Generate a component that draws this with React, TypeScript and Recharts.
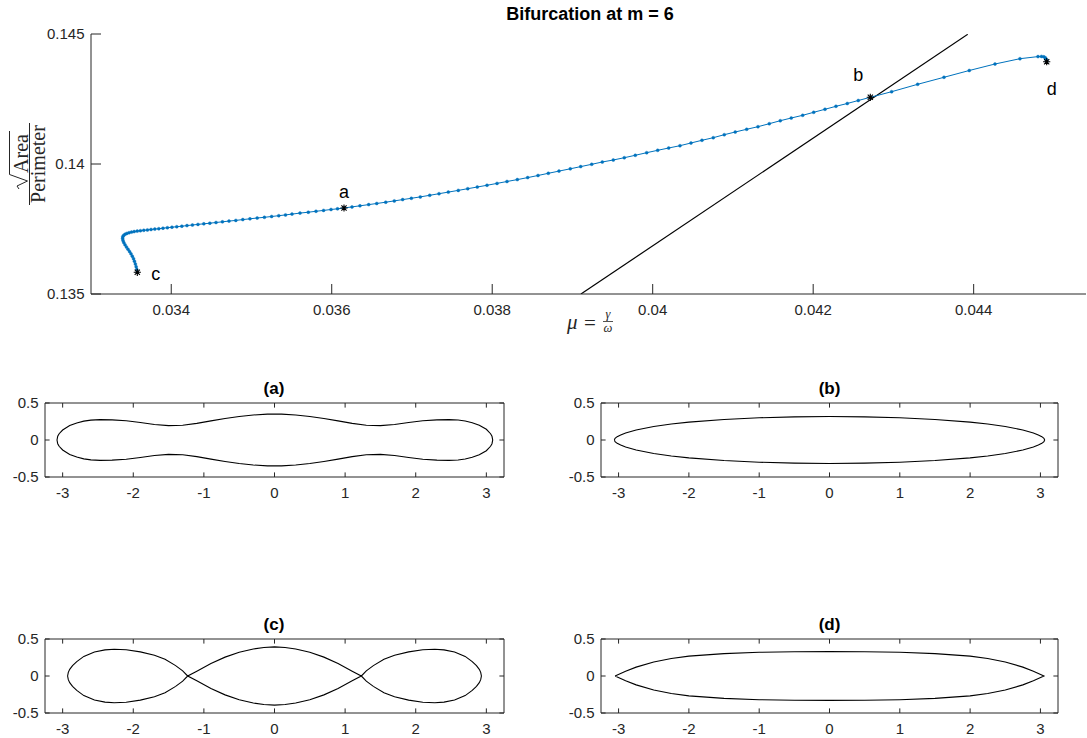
import React from "react";
import { ComposedChart, LineChart, Line, Scatter, XAxis, YAxis } from "recharts";

// branch traced from c (lower left) to d (upper right)
const branchMu = [
  0.033577, 0.033571, 0.033563, 0.033553, 0.033542, 0.03353, 0.033515, 0.033498, 0.03348, 0.033461,
  0.033442, 0.033424, 0.033409, 0.033399, 0.033394, 0.033396, 0.033406, 0.033424, 0.033446, 0.033474,
  0.033505, 0.033538, 0.033576, 0.033616, 0.033658, 0.033703,
  0.033748, 0.033795, 0.033845, 0.033897, 0.033952, 0.034009, 0.034069, 0.034132, 0.034196, 0.034264,
  0.034333, 0.034406, 0.034481, 0.034558, 0.034638, 0.03472, 0.034805, 0.034892, 0.034981, 0.035071,
  0.035161, 0.035251, 0.03534, 0.035424, 0.035505,
  0.035605, 0.035708, 0.035804, 0.035898, 0.035991, 0.036072, 0.036153,
  0.036253, 0.036352, 0.036461, 0.036561, 0.036673, 0.03678, 0.036884, 0.036992, 0.037104, 0.037221,
  0.037337, 0.037453, 0.037577, 0.037695, 0.037814, 0.037935, 0.03806, 0.038184, 0.038313, 0.038442,
  0.038571, 0.038699, 0.038832, 0.038973, 0.039103,
  0.03924, 0.039372, 0.039509, 0.039646, 0.039783, 0.039925, 0.040062, 0.040199, 0.04034, 0.040477,
  0.040614, 0.040755, 0.040892, 0.041029, 0.041171, 0.041312, 0.041453, 0.04159, 0.041727, 0.041869,
  0.042006, 0.042147, 0.042284, 0.042425, 0.042562, 0.042712,
  0.042978, 0.043302, 0.04363, 0.043945, 0.044266, 0.044577, 0.044802, 0.044845, 0.044874, 0.044893,
  0.044904, 0.044909, 0.04491,
];
const branchRatio = [
  0.135835, 0.135942, 0.136046, 0.136154, 0.136258, 0.136358, 0.136454, 0.136546, 0.136635, 0.136723,
  0.136808, 0.136892, 0.136977, 0.137058, 0.137135, 0.1372, 0.137254, 0.137296, 0.137331, 0.137358,
  0.137381, 0.1374, 0.137419, 0.137435, 0.13745, 0.137465,
  0.137481, 0.137496, 0.137512, 0.137531, 0.13755, 0.137569, 0.137588, 0.137608, 0.137631, 0.137654,
  0.137677, 0.1377, 0.137723, 0.13775, 0.137777, 0.137804, 0.137831, 0.137862, 0.137892, 0.137923,
  0.13795, 0.137981, 0.138012, 0.138042, 0.138073,
  0.138112, 0.138146, 0.138181, 0.138215, 0.13825, 0.138277, 0.138308,
  0.13835, 0.138392, 0.138438, 0.138481, 0.138531, 0.138581, 0.138631, 0.138681, 0.138735, 0.138796,
  0.138858, 0.138919, 0.138985, 0.13905, 0.139115, 0.139181, 0.139254, 0.139327, 0.1394, 0.139477,
  0.139558, 0.139642, 0.139727, 0.139815, 0.1399,
  0.139988, 0.140077, 0.140154, 0.140242, 0.140335, 0.140435, 0.140527, 0.140615, 0.140704, 0.140808,
  0.140912, 0.141012, 0.141127, 0.141231, 0.141335, 0.141435, 0.14155, 0.141665, 0.141769, 0.141873,
  0.141988, 0.142104, 0.142219, 0.142327, 0.142442, 0.142565,
  0.142781, 0.143065, 0.143335, 0.143596, 0.143846, 0.14405, 0.144131, 0.144138, 0.144123, 0.144085,
  0.144031, 0.143981, 0.143935,
];

// straight black line
const foldMu = [0.039106, 0.043926];
const foldRatio = [0.135, 0.144988];

// marked solutions
const markLabels = ["c", "a", "b", "d"];
const markMu = [0.033577, 0.036153, 0.042712, 0.04491];
const markRatio = [0.135835, 0.138308, 0.142565, 0.143935];

const mainXTicks = [0.034, 0.036, 0.038, 0.04, 0.042, 0.044];
const mainYTicks = [0.135, 0.14, 0.145];

// shape outlines: upper half, left to right (lower half is the mirror in y)
const shapeAX = [
  -3.08, -3.07, -3.05, -3.0, -2.9, -2.8, -2.7, -2.6, -2.47, -2.3, -2.1, -1.9, -1.7, -1.5, -1.3, -1.1,
  -0.9, -0.7, -0.5, -0.3, -0.1, 0.1, 0.3, 0.5, 0.7, 0.9, 1.1, 1.3, 1.5, 1.7, 1.9, 2.1, 2.3, 2.47, 2.6,
  2.7, 2.8, 2.9, 3.0, 3.06, 3.08, 3.09,
];
const shapeAY = [
  0, 0.05, 0.085, 0.135, 0.195, 0.231, 0.255, 0.269, 0.275, 0.272, 0.26, 0.236, 0.21, 0.194, 0.2, 0.225,
  0.258, 0.29, 0.318, 0.338, 0.35, 0.35, 0.338, 0.318, 0.29, 0.258, 0.225, 0.2, 0.194, 0.21, 0.236, 0.26,
  0.272, 0.275, 0.27, 0.257, 0.234, 0.2, 0.145, 0.085, 0.05, 0,
];
const shapeBX = [
  -3.06, -3.05, -3.02, -2.97, -2.9, -2.75, -2.5, -2.25, -2.0, -1.5, -1.0, -0.5, 0, 0.5, 1.0, 1.5, 2.0,
  2.25, 2.5, 2.75, 2.9, 2.97, 3.02, 3.05, 3.06,
];
const shapeBY = [
  0, 0.022, 0.045, 0.068, 0.095, 0.136, 0.183, 0.216, 0.242, 0.278, 0.3, 0.313, 0.318, 0.313, 0.3, 0.278,
  0.242, 0.216, 0.183, 0.136, 0.095, 0.068, 0.045, 0.022, 0,
];
const shapeCX = [
  -2.93, -2.92, -2.9, -2.86, -2.8, -2.7, -2.55, -2.4, -2.27, -2.1, -1.9, -1.7, -1.55, -1.4, -1.3, -1.23,
  -1.1, -0.9, -0.7, -0.5, -0.3, -0.15, 0, 0.15, 0.3, 0.5, 0.7, 0.9, 1.1, 1.23, 1.3, 1.4, 1.55, 1.7, 1.9,
  2.1, 2.27, 2.4, 2.55, 2.7, 2.8, 2.86, 2.9, 2.92, 2.93,
];
const shapeCY = [
  0, 0.05, 0.09, 0.14, 0.195, 0.265, 0.325, 0.353, 0.362, 0.355, 0.326, 0.28, 0.225, 0.14, 0.07, 0,
  0.065, 0.17, 0.255, 0.32, 0.365, 0.385, 0.393, 0.385, 0.365, 0.32, 0.255, 0.17, 0.065, 0, 0.07, 0.14,
  0.225, 0.28, 0.326, 0.355, 0.362, 0.353, 0.325, 0.265, 0.195, 0.14, 0.09, 0.05, 0,
];
const shapeDX = [
  -3.05, -2.9, -2.75, -2.5, -2.25, -2.0, -1.5, -1.0, -0.5, 0, 0.5, 1.0, 1.5, 2.0, 2.25, 2.5, 2.75, 2.9, 3.05,
];
const shapeDY = [
  0, 0.065, 0.12, 0.19, 0.237, 0.268, 0.302, 0.32, 0.328, 0.33, 0.328, 0.32, 0.302, 0.268, 0.237, 0.19,
  0.12, 0.065, 0,
];

const shapeXTicks = [-3, -2, -1, 0, 1, 2, 3];
const shapeYTicks = [-0.5, 0, 0.5];

const FONT = "'Liberation Sans', Arial, Helvetica, sans-serif";
const SERIF = "'Liberation Serif', 'Times New Roman', serif";
const AXIS = "#262626";
const BLUE = "#0072BD";

const zip = (xs: number[], ys: number[]) => xs.map((x, i) => ({ x, y: ys[i] }));

function outline(xs: number[], ys: number[]) {
  const top = zip(xs, ys);
  const bottom = xs.map((x, i) => ({ x, y: -ys[i] })).reverse();
  return [...top, ...bottom.slice(1)];
}

type Side = "bottom" | "left" | "top" | "right";

function inwardTick(side: Side, len: number, showLabel: boolean) {
  return (props: any) => {
    const { x, y, payload } = props;
    let x2 = x;
    let y2 = y;
    if (side === "bottom") y2 = y - len;
    if (side === "top") y2 = y + len;
    if (side === "left") x2 = x + len;
    if (side === "right") x2 = x - len;
    const txt = String(payload?.value);
    return (
      <g>
        <line x1={x} y1={y} x2={x2} y2={y2} stroke={AXIS} strokeWidth={1} />
        {showLabel && side === "bottom" && (
          <text x={x} y={y + 21} textAnchor="middle" fontFamily={FONT} fontSize={15} fill={AXIS}>
            {txt}
          </text>
        )}
        {showLabel && side === "left" && (
          <text x={x - 6.5} y={y} dy="0.36em" textAnchor="end" fontFamily={FONT} fontSize={15} fill={AXIS}>
            {txt}
          </text>
        )}
      </g>
    );
  };
}

const LABEL_OFFSET: Record<string, [number, number]> = {
  a: [0, -10],
  b: [-12, -16],
  c: [18.5, 7.5],
  d: [5, 33],
};

function StarMark(props: any) {
  const { cx, cy, payload } = props;
  if (cx == null || cy == null) return null;
  const r = 3.6;
  const d = 2.6;
  const [dx, dy] = LABEL_OFFSET[payload.label] ?? [0, -12];
  return (
    <g>
      <path
        d={`M${cx - r},${cy}H${cx + r}M${cx},${cy - r}V${cy + r}M${cx - d},${cy - d}L${cx + d},${cy + d}M${cx - d},${cy + d}L${cx + d},${cy - d}`}
        stroke="#000"
        strokeWidth={1.1}
        fill="none"
      />
      <text x={cx + dx} y={cy + dy} textAnchor="middle" fontFamily={FONT} fontSize={18} fill="#000">
        {payload.label}
      </text>
    </g>
  );
}

function ShapePanel(props: {
  left: number;
  top: number;
  width: number;
  height: number;
  margin: { top: number; right: number; bottom: number; left: number };
  data: { x: number; y: number }[];
}) {
  const { left, top, width, height, margin, data } = props;
  const axisLine = { stroke: AXIS, strokeWidth: 1 };
  return (
    <div style={{ position: "absolute", left, top, width, height }}>
      <LineChart width={width} height={height} margin={margin}>
        <XAxis
          xAxisId="b"
          type="number"
          dataKey="x"
          domain={[-3.25, 3.25]}
          ticks={shapeXTicks}
          interval={0}
          height={20}
          tickSize={0}
          tickMargin={0}
          tickLine={false}
          axisLine={axisLine}
          tick={inwardTick("bottom", 4.6, true)}
          allowDataOverflow
        />
        <XAxis
          xAxisId="t"
          orientation="top"
          type="number"
          dataKey="x"
          domain={[-3.25, 3.25]}
          ticks={shapeXTicks}
          interval={0}
          height={1}
          tickSize={0}
          tickMargin={0}
          tickLine={false}
          axisLine={axisLine}
          tick={inwardTick("top", 4.6, false)}
          allowDataOverflow
        />
        <YAxis
          yAxisId="l"
          type="number"
          dataKey="y"
          domain={[-0.5, 0.5]}
          ticks={shapeYTicks}
          interval={0}
          width={40}
          tickSize={0}
          tickMargin={0}
          tickLine={false}
          axisLine={axisLine}
          tick={inwardTick("left", 4.6, true)}
          allowDataOverflow
        />
        <YAxis
          yAxisId="r"
          orientation="right"
          type="number"
          dataKey="y"
          domain={[-0.5, 0.5]}
          ticks={shapeYTicks}
          interval={0}
          width={1}
          tickSize={0}
          tickMargin={0}
          tickLine={false}
          axisLine={axisLine}
          tick={inwardTick("right", 4.6, false)}
          allowDataOverflow
        />
        <Line
          xAxisId="b"
          yAxisId="l"
          data={data}
          dataKey="y"
          type="linear"
          stroke="#000"
          strokeWidth={1.1}
          dot={false}
          isAnimationActive={false}
        />
        <Line
          xAxisId="t"
          yAxisId="r"
          data={data}
          dataKey="y"
          type="linear"
          stroke="none"
          dot={false}
          isAnimationActive={false}
        />
      </LineChart>
    </div>
  );
}

export default function App() {
  const branch = zip(branchMu, branchRatio);
  const fold = zip(foldMu, foldRatio);
  const marks = markMu.map((x, i) => ({ x, y: markRatio[i], label: markLabels[i] }));
  const axisLine = { stroke: AXIS, strokeWidth: 1 };

  const upperMargin = { top: 22, right: 40, bottom: 13, left: 5 };
  const upperMarginR = { top: 22, right: 28, bottom: 13, left: 16 };
  const lowerMargin = { top: 23, right: 40, bottom: 5, left: 5 };
  const lowerMarginR = { top: 23, right: 28, bottom: 5, left: 16 };

  return (
    <div
      style={{
        position: "absolute",
        left: 0,
        top: 0,
        width: 1087,
        height: 738,
        background: "#fff",
        overflow: "hidden",
        fontFamily: FONT,
      }}
    >
      <div style={{ position: "absolute", left: 0, top: 0, width: 1087, height: 340 }}>
        <ComposedChart width={1087} height={340} margin={{ top: 34, right: 1, bottom: 16, left: 41 }}>
          <XAxis
            type="number"
            dataKey="x"
            domain={[0.033, 0.0454]}
            ticks={mainXTicks}
            interval={0}
            height={30}
            tickSize={0}
            tickMargin={0}
            tickLine={false}
            axisLine={axisLine}
            tick={inwardTick("bottom", 10, true)}
            allowDataOverflow
          />
          <YAxis
            type="number"
            dataKey="y"
            domain={[0.135, 0.145]}
            ticks={mainYTicks}
            interval={0}
            width={50}
            tickSize={0}
            tickMargin={0}
            tickLine={false}
            axisLine={axisLine}
            tick={inwardTick("left", 10, true)}
            allowDataOverflow
          />
          <Line
            data={fold}
            dataKey="y"
            type="linear"
            stroke="#000"
            strokeWidth={1.2}
            dot={false}
            isAnimationActive={false}
          />
          <Line
            data={branch}
            dataKey="y"
            type="linear"
            stroke={BLUE}
            strokeWidth={1}
            dot={{ r: 1.5, fill: BLUE, stroke: BLUE, strokeWidth: 0.4 }}
            isAnimationActive={false}
          />
          <Scatter data={marks} dataKey="y" shape={StarMark} isAnimationActive={false} />
        </ComposedChart>
      </div>

      <ShapePanel left={0} top={380} width={545} height={130} margin={upperMargin} data={outline(shapeAX, shapeAY)} />
      <ShapePanel left={545} top={380} width={542} height={130} margin={upperMarginR} data={outline(shapeBX, shapeBY)} />
      <ShapePanel left={0} top={615} width={545} height={123} margin={lowerMargin} data={outline(shapeCX, shapeCY)} />
      <ShapePanel left={545} top={615} width={542} height={123} margin={lowerMarginR} data={outline(shapeDX, shapeDY)} />

      <svg
        width={1087}
        height={738}
        style={{ position: "absolute", left: 0, top: 0, pointerEvents: "none" }}
      >
        <text x={590} y={20} textAnchor="middle" fontFamily={FONT} fontWeight="bold" fontSize={18} fill="#000">
          Bifurcation at m = 6
        </text>

        {/* y label: sqrt(Area) / Perimeter */}
        <g transform="translate(0,164) rotate(-90)" fill={AXIS}>
          <path d="M-25,19 L-22,17 L-17,27.5 L-10.5,9.5 L33,9.5" stroke={AXIS} strokeWidth={1} fill="none" />
          <text x={10.5} y={27.5} textAnchor="middle" fontFamily={SERIF} fontSize={20}>
            Area
          </text>
          <line x1={-41} x2={41} y1={29.5} y2={29.5} stroke={AXIS} strokeWidth={1} />
          <text x={0} y={44.5} textAnchor="middle" fontFamily={SERIF} fontSize={20}>
            Perimeter
          </text>
        </g>

        {/* x label: mu = gamma / omega */}
        <g fill={AXIS} fontFamily={SERIF}>
          <text x={567} y={329} fontSize={21} fontStyle="italic">
            μ
          </text>
          <text x={584} y={329.5} fontSize={21}>
            =
          </text>
          <text x={608} y={318} textAnchor="middle" fontSize={12.5} fontStyle="italic">
            γ
          </text>
          <line x1={603} x2={613} y1={321.5} y2={321.5} stroke={AXIS} strokeWidth={0.8} />
          <text x={608} y={332} textAnchor="middle" fontSize={12.5} fontStyle="italic">
            ω
          </text>
        </g>

        <g fontFamily={FONT} fontWeight="bold" fontSize={17} fill="#000" textAnchor="middle">
          <text x={274} y={394}>(a)</text>
          <text x={829.5} y={394}>(b)</text>
          <text x={274} y={630}>(c)</text>
          <text x={829.5} y={630}>(d)</text>
        </g>
      </svg>
    </div>
  );
}
